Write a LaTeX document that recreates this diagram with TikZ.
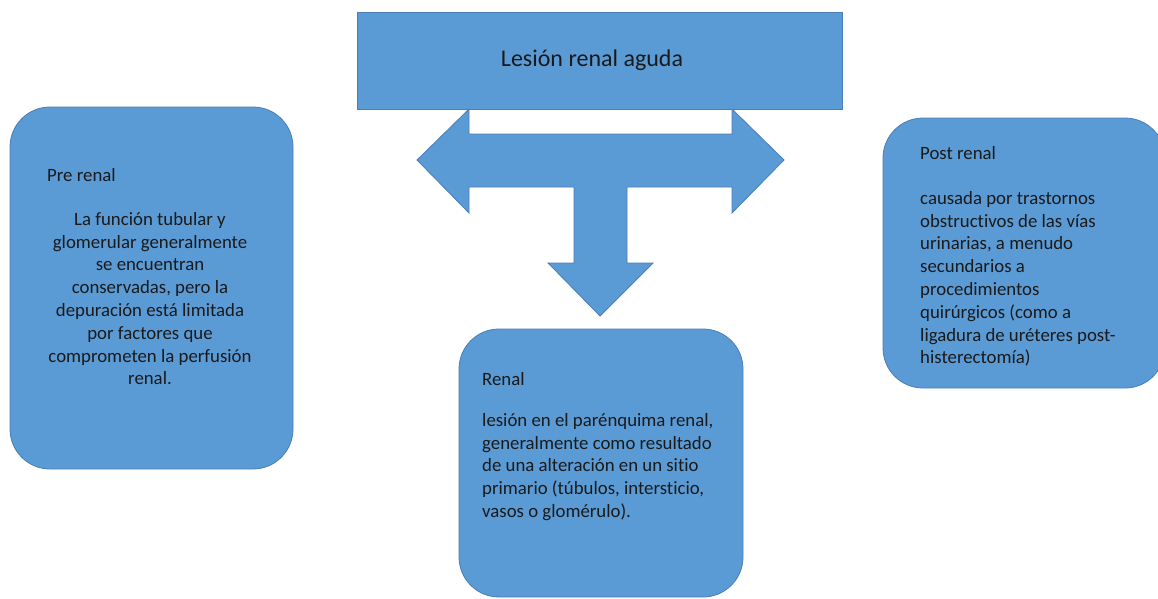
\documentclass[tikz,border=0pt]{standalone}
\usepackage{fontspec}
\setmainfont{Carlito}[Ligatures=CommonOff]
\definecolor{boxfill}{HTML}{5B9BD5}
\definecolor{boxline}{HTML}{4A7EBB}
\definecolor{txt}{HTML}{1A1A1A}
\begin{document}
\begin{tikzpicture}[x=1pt,y=-1pt,
  shapebox/.style={fill=boxfill,draw=boxline,line width=0.8pt},
  roundbox/.style={shapebox,rounded corners=40pt},
  bodytext/.style={text=txt,font=\fontsize{18.8}{22.8}\selectfont,inner sep=0pt},
  titletext/.style={text=txt,font=\fontsize{24}{28}\selectfont,inner sep=0pt}]
\useasboundingbox (0,0) rectangle (1158,598);
\clip (0,0) rectangle (1158,598);
% three-way arrow
\draw[shapebox] (417,160) -- (469,109) -- (469,134) -- (732,134) -- (732,109)
  -- (784,160) -- (732,213) -- (732,187) -- (627,187) -- (627,263) -- (653,263)
  -- (600,316) -- (548,263) -- (574,263) -- (574,187) -- (469,187) -- (469,213) -- cycle;
% top box
\node[shapebox,minimum width=485pt,minimum height=97pt,anchor=north west,inner sep=0pt] (top) at (357,12) {};
\node[titletext] (toptext) at (592,60) {Lesión renal aguda};
% pre renal
\draw[roundbox] (10,107) rectangle (293,469);
\node[bodytext,anchor=west] (pretitle) at (47,175) {Pre renal};
\node[bodytext,align=center,anchor=north] (prebody) at (150,212) {La función tubular y\\glomerular generalmente\\se encuentran\\conservadas, pero la\\depuración está limitada\\por factores que\\comprometen la perfusión\\renal.};
% post renal
\draw[roundbox] (883,118) rectangle (1165,388);
\node[bodytext,anchor=west] (posttitle) at (920,153) {Post renal};
\node[bodytext,align=left,anchor=north west] (postbody) at (920,191) {causada por trastornos\\obstructivos de las vías\\urinarias, a menudo\\secundarios a\\procedimientos\\quirúrgicos (como a\\ligadura de uréteres post-\\histerectomía)};
% renal
\draw[roundbox] (459,329) rectangle (743,597);
\node[bodytext,anchor=west] (rentitle) at (482,379) {Renal};
\node[bodytext,align=left,anchor=north west] (renbody) at (482,413) {lesión en el parénquima renal,\\generalmente como resultado\\de una alteración en un sitio\\primario (túbulos, intersticio,\\vasos o glomérulo).};
\end{tikzpicture}
\end{document}
